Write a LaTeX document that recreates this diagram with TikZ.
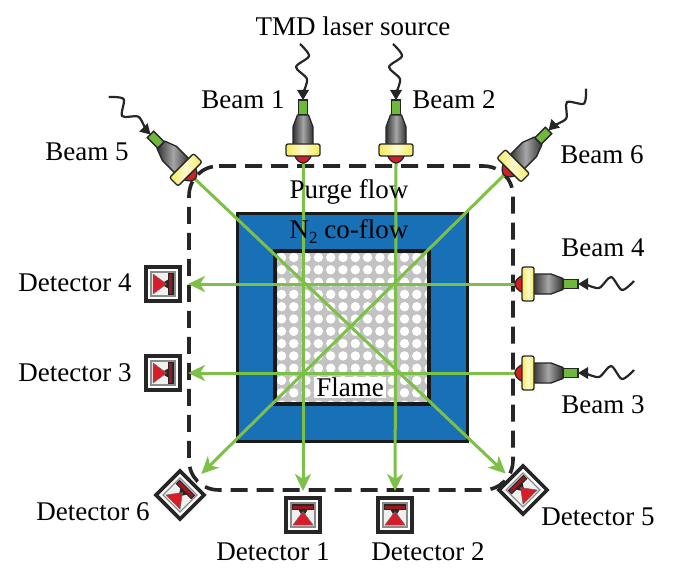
\documentclass[tikz,border=0pt]{standalone}
\usepackage{fontspec}
\setmainfont{Liberation Serif}
\usetikzlibrary{arrows.meta}
\definecolor{coflow}{RGB}{24,112,182}
\definecolor{beamgreen}{RGB}{125,192,72}
\definecolor{tubegreen}{RGB}{110,185,60}
\definecolor{tipred}{RGB}{215,30,40}
\definecolor{flangeyellow}{RGB}{245,235,90}
\tikzset{
  lbl/.style={inner sep=0pt,font=\fontsize{27}{30}\selectfont},
  beamline/.style={draw=beamgreen,line width=3pt},
  beamarrow/.style={beamline,-{Stealth[length=17pt,width=16pt,inset=5pt]}},
  detbox/.style={draw=black!85,line width=3.6pt,fill=white,minimum size=34pt,inner sep=0pt,outer sep=0pt},
  tube/.style={draw=black!85,line width=1.3pt},
}
% launcher: tip at the origin, pointing down before rotation
\newcommand{\launcher}[3]{%
  \coordinate (#1) at (#2);
  \begin{scope}[shift={(#2)},rotate=#3]
    \draw[black!85,line width=2.2pt] plot[smooth] coordinates {(-3,-119) (6,-107) (-7,-96) (4,-84) (0,-70)};
    \fill[black!85] (-6,-73) -- (6,-73) -- (0,-63) -- cycle;
    \draw[tube,fill=tubegreen] (-4.5,-63) rectangle (4.5,-48);
    \draw[tube,left color=black!80,right color=black!80,middle color=black!35]
      (-5.5,-48) -- (5.5,-48) -- (10,-36) -- (10,-18) -- (-10,-18) -- (-10,-36) -- cycle;
    \draw[tube,fill=tipred] (-9,-9) .. controls (-7,-3) and (-3,0) .. (0,0) .. controls (3,0) and (7,-3) .. (9,-9) -- cycle;
    \draw[tube,rounded corners=2pt,left color=flangeyellow,right color=flangeyellow,middle color=white!70!flangeyellow]
      (-17,-19) rectangle (17,-7);
  \end{scope}}
% detector pictogram, drawn over its box; the bar faces the arriving beam
\newcommand{\detmark}[2]{%
  \begin{scope}[shift={(#1)},rotate=#2]
    \draw[black!45,line width=1.2pt,fill=black!6] (-12,-12) rectangle (12,12);
    \fill[black!85] (-5,-6) -- (5,-6) -- (2,-1) -- (-2,-1) -- cycle;
    \draw[black!85,line width=1.1pt,fill=tipred!75!black] (-10.5,-10) rectangle (10.5,-5.5);
    \fill[tipred,draw=black!60,line width=.5pt] (0,-3.5) -- (10,10) -- (-10,10) -- cycle;
  \end{scope}}
\begin{document}
\begin{tikzpicture}[x=1pt,y=-1pt]
\useasboundingbox (0,0) rectangle (700,577);
\fill[white] (0,0) rectangle (700,577);

% squares
\draw[black!90,line width=3pt,fill=coflow] (237,213) rectangle (467,441);
\begin{scope}
  \clip (275,251) rectangle (429,404);
  \fill[black!24] (275,251) rectangle (429,404);
  \foreach \i in {0,...,12} \foreach \j in {0,...,12}
    \fill[white] ({281.5+12.3*\i},{257.5+12.3*\j}) circle (4.7);
\end{scope}
\draw[black!90,line width=4pt] (275,251) rectangle (429,404);

% purge boundary, built from its four rounded corners
\draw[black!85,line width=3.6pt,dash pattern=on 17pt off 9pt]
  (219,166) -- (483,166) .. controls (500,166) and (513,179) .. (513,196)
  -- (513,460) .. controls (513,477) and (500,490) .. (483,490)
  -- (219,490) .. controls (202,490) and (189,477) .. (189,460)
  -- (189,196) .. controls (189,179) and (202,166) .. (219,166);

% detectors
\node[detbox] (det1) at (303,515) {};
\node[detbox] (det2) at (395,515) {};
\node[detbox] (det3) at (163,373) {};
\node[detbox] (det4) at (163,284) {};
\node[detbox,rotate=45] (det5) at (523,490) {};
\node[detbox,rotate=-45] (det6) at (180,495) {};
\detmark{303,515}{0}
\detmark{395,515}{0}
\detmark{163,373}{-90}
\detmark{163,284}{-90}
\detmark{523,490}{45}
\detmark{180,495}{-45}

% launcher positions and beams
\coordinate (b1) at (303,163);
\coordinate (b2) at (396,163);
\coordinate (b3) at (515,373);
\coordinate (b4) at (515,284);
\coordinate (b5) at (195,179);
\coordinate (b6) at (504,175);
\draw[beamarrow,shorten >=7pt] (b1) -- (det1);
\draw[beamarrow,shorten >=7pt] (b2) -- (det2);
\draw[beamarrow,shorten >=8pt] (b3) -- (det3);
\draw[beamarrow,shorten >=8pt] (b4) -- (det4);
\draw[beamarrow,shorten >=7pt] (b5) -- (det5);
\draw[beamarrow,shorten >=13pt] (b6) -- (det6);

\launcher{l1}{303,163}{0}
\launcher{l2}{396,163}{0}
\launcher{l3}{515,373}{-90}
\launcher{l4}{515,284}{-90}
\launcher{l5}{195,179}{45}
\launcher{l6}{504,175}{-45}

% labels
\node[lbl] (t0) at (353,26) {TMD laser source};
\node[lbl] (t1) at (243,100) {Beam 1};
\node[lbl] (t2) at (454,100) {Beam 2};
\node[lbl] (t5) at (87,152) {Beam 5};
\node[lbl] (t6) at (602,155) {Beam 6};
\node[lbl] (t4) at (603,248) {Beam 4};
\node[lbl] (t3) at (603,405) {Beam 3};
\node[lbl] (d4) at (75,283) {Detector 4};
\node[lbl] (d3) at (75,373) {Detector 3};
\node[lbl] (d6) at (93,512) {Detector 6};
\node[lbl] (d5) at (598,517) {Detector 5};
\node[lbl] (d1) at (273,552) {Detector 1};
\node[lbl] (d2) at (428,552) {Detector 2};
\node[lbl] (pf) at (349,192) {Purge flow};
\node[lbl] (n2) at (349,231) {N\raisebox{-5pt}{\fontsize{17}{17}\selectfont 2} co-flow};
\node[lbl,fill=white,inner xsep=2pt,inner ysep=1pt] (fl) at (350,387) {Flame};
\end{tikzpicture}
\end{document}
